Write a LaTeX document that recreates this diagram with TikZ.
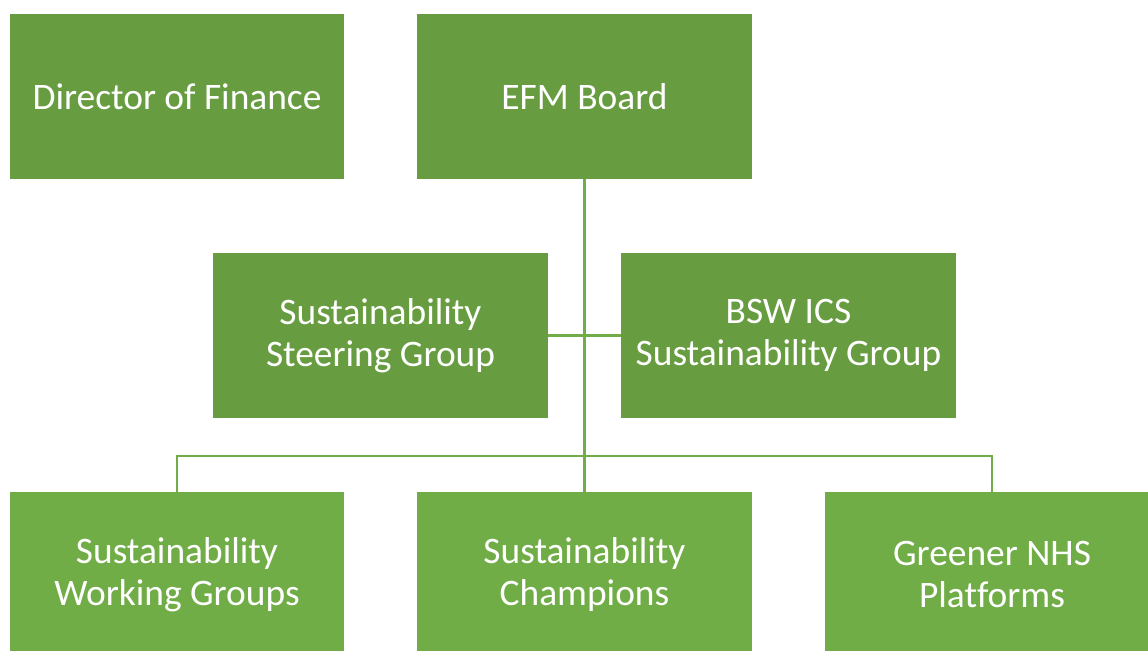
\documentclass[tikz,border=0pt]{standalone}
\usepackage{fontspec}
\setmainfont{Carlito}[Ligatures=NoCommon]
\definecolor{boardgreen}{RGB}{103,157,64}
\definecolor{teamgreen}{RGB}{112,173,71}
\tikzset{
  % filled boxes of the chart
  unit/.style={
    fill=#1, draw=none, text=white,
    minimum width=8.35cm, minimum height=4.125cm,
    align=center, inner sep=0pt,
    font=\fontsize{26.6}{29.6}\selectfont
  },
  % connecting lines
  link/.style={draw=teamgreen, line width=2.1pt}
}
\begin{document}
\begin{tikzpicture}[x=0.025cm,y=-0.025cm]
\useasboundingbox (0,0) rectangle (1148,650);
\clip (0,0) rectangle (1148,650);
\fill[white] (0,0) rectangle (1148,650);
\coordinate (DF) at (177,96.5);
\coordinate (EB) at (584.5,96.5);
\coordinate (SG) at (380.5,335.5);
\coordinate (IG) at (788.5,335.5);
\coordinate (WG) at (177,574.5);
\coordinate (CH) at (584.5,574.5);
\coordinate (GN) at (992,574.5);
\coordinate (hub) at (584.5,456);
% boxes
\node[unit=boardgreen] (dof) at (DF) {Director of Finance};
\node[unit=boardgreen] (efm) at (EB) {EFM Board};
\node[unit=boardgreen] (ssg) at (SG) {Sustainability\\Steering Group};
\node[unit=boardgreen] (bsw) at (IG) {BSW ICS\\Sustainability Group};
\node[unit=teamgreen] (wgp) at (WG) {Sustainability\\Working Groups};
\node[unit=teamgreen] (chp) at (CH) {Sustainability\\Champions};
\node[unit=teamgreen] (gnp) at (GN) {Greener NHS\\Platforms};
% lines between them
\draw[link] (efm) -- (chp);
\draw[link] (ssg) -- (bsw);
\draw[link] (wgp.north) |- (hub) -| (gnp.north);
\end{tikzpicture}
\end{document}
